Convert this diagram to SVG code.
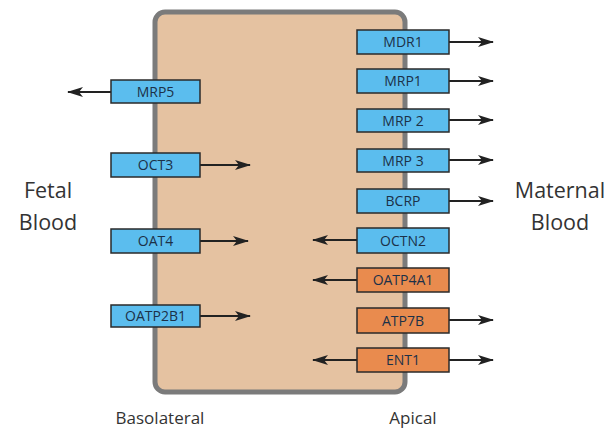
<svg xmlns="http://www.w3.org/2000/svg" width="610" height="431" viewBox="0 0 610 431">
<style>
.cell{fill:#e5c2a1;stroke:#7b7b7b;stroke-width:5}
.b{fill:#5bbdee;stroke:#2a2a2a;stroke-width:1.5}
.o{fill:#e98b4e;stroke:#2a2a2a;stroke-width:1.5}
.lbl{font-family:"Open Sans","Liberation Sans",sans-serif;font-size:14px;fill:#1c3148;text-anchor:middle}
.side{font-family:"Open Sans","Liberation Sans",sans-serif;font-size:21.5px;fill:#333;text-anchor:middle}
.foot{font-family:"Open Sans","Liberation Sans",sans-serif;font-size:17px;fill:#333;text-anchor:middle}
.c{stroke:#222;stroke-width:1.8;fill:none;marker-end:url(#ah)}
</style>
<defs>
<marker id="ah" viewBox="0 0 16 10" refX="15" refY="5" markerWidth="16" markerHeight="10" markerUnits="userSpaceOnUse" orient="auto">
<path d="M0,0 L16,5 L0,10 L4,5 Z" fill="#222"/>
</marker>
</defs>
<rect class="cell" x="155" y="12" width="250" height="380" rx="10"/>
<g id="connectors">
<line class="c" x1="111" y1="92" x2="68" y2="92"/>
<line class="c" x1="200" y1="165" x2="250" y2="165"/>
<line class="c" x1="200" y1="241" x2="248" y2="241"/>
<line class="c" x1="200" y1="316" x2="250" y2="316"/>
<line class="c" x1="449" y1="42" x2="493" y2="42"/>
<line class="c" x1="449" y1="81" x2="493" y2="81"/>
<line class="c" x1="449" y1="120" x2="493" y2="120"/>
<line class="c" x1="449" y1="160" x2="493" y2="160"/>
<line class="c" x1="449" y1="201" x2="493" y2="201"/>
<line class="c" x1="357" y1="240" x2="313" y2="240"/>
<line class="c" x1="357" y1="280" x2="313" y2="280"/>
<line class="c" x1="449" y1="320" x2="493" y2="320"/>
<line class="c" x1="449" y1="360" x2="493" y2="360"/>
<line class="c" x1="357" y1="360" x2="313" y2="360"/>
</g>
<g id="MRP5"><rect class="b" x="111" y="80" width="89" height="23"/><text class="lbl" x="155.5" y="96.5">MRP5</text></g>
<g id="OCT3"><rect class="b" x="111" y="153" width="89" height="24"/><text class="lbl" x="155.5" y="170">OCT3</text></g>
<g id="OAT4"><rect class="b" x="111" y="229" width="89" height="24"/><text class="lbl" x="155.5" y="246">OAT4</text></g>
<g id="OATP2B1"><rect class="b" x="111" y="305" width="89" height="22"/><text class="lbl" x="155.5" y="321">OATP2B1</text></g>
<g id="MDR1"><rect class="b" x="357" y="30" width="92" height="24"/><text class="lbl" x="403" y="47">MDR1</text></g>
<g id="MRP1"><rect class="b" x="357" y="69" width="92" height="24"/><text class="lbl" x="403" y="86">MRP1</text></g>
<g id="MRP2"><rect class="b" x="357" y="109" width="92" height="23"/><text class="lbl" x="403" y="125.5">MRP 2</text></g>
<g id="MRP3"><rect class="b" x="357" y="149" width="92" height="23"/><text class="lbl" x="403" y="165.5">MRP 3</text></g>
<g id="BCRP"><rect class="b" x="357" y="189" width="92" height="24"/><text class="lbl" x="403" y="206">BCRP</text></g>
<g id="OCTN2"><rect class="b" x="357" y="228" width="92" height="25"/><text class="lbl" x="403" y="245.5">OCTN2</text></g>
<g id="OATP4A1"><rect class="o" x="357" y="268" width="92" height="24"/><text class="lbl" x="403" y="285">OATP4A1</text></g>
<g id="ATP7B"><rect class="o" x="357" y="308" width="92" height="25"/><text class="lbl" x="403" y="325.5">ATP7B</text></g>
<g id="ENT1"><rect class="o" x="357" y="348" width="92" height="24"/><text class="lbl" x="403" y="365">ENT1</text></g>
<text class="side" x="48" y="198">Fetal</text>
<text class="side" x="48" y="230">Blood</text>
<text class="side" x="560" y="198">Maternal</text>
<text class="side" x="560" y="230">Blood</text>
<text class="foot" x="160" y="424">Basolateral</text>
<text class="foot" x="413" y="424">Apical</text>
</svg>
